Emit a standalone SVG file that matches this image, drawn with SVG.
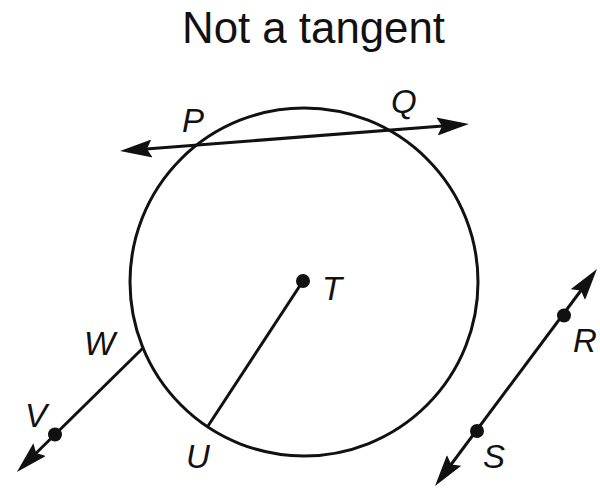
<svg xmlns="http://www.w3.org/2000/svg" width="600" height="488" viewBox="0 0 600 488">
<style>
  .title { font-family: "Liberation Sans", "DejaVu Sans", sans-serif; font-size: 45px; fill: #111; }
  .lbl { font-family: "Liberation Sans", "DejaVu Sans", sans-serif; font-size: 33px; font-style: italic; fill: #111; }
  .ln { stroke: #111; stroke-width: 3; fill: none; }
  .dot { fill: #111; }
</style>
<defs>
  <marker id="arr" viewBox="0 0 32 18" refX="22" refY="9" markerWidth="32" markerHeight="18" markerUnits="userSpaceOnUse" orient="auto-start-reverse">
    <path d="M0,0 L32,9 L0,18 L5,9 Z" fill="#111"/>
  </marker>
</defs>
<rect width="600" height="488" fill="#fff"/>
<text class="title" x="182" y="43" textLength="263" lengthAdjust="spacingAndGlyphs">Not a tangent</text>

<g id="circle">
  <circle class="ln" cx="304" cy="282" r="174"/>
</g>

<g id="connectors">
  <line class="ln" x1="130" y1="150.2" x2="459" y2="124.8" marker-start="url(#arr)" marker-end="url(#arr)"/>
  <line class="ln" x1="143" y1="348" x2="24" y2="465" marker-end="url(#arr)"/>
  <line class="ln" x1="441" y1="478" x2="591" y2="277" marker-start="url(#arr)" marker-end="url(#arr)"/>
  <line class="ln" x1="303" y1="281" x2="208" y2="426"/>
</g>

<g id="P"><text class="lbl" x="182" y="132">P</text></g>
<g id="Q"><text class="lbl" x="391" y="113">Q</text></g>
<g id="T"><circle class="dot" cx="303" cy="281" r="7"/><text class="lbl" x="322" y="300">T</text></g>
<g id="U"><text class="lbl" x="186" y="468">U</text></g>
<g id="W"><text class="lbl" x="84" y="355">W</text></g>
<g id="V"><circle class="dot" cx="55" cy="434.5" r="7"/><text class="lbl" x="25" y="427">V</text></g>
<g id="R"><circle class="dot" cx="564" cy="315.5" r="7"/><text class="lbl" x="573" y="352">R</text></g>
<g id="S"><circle class="dot" cx="477" cy="431" r="7"/><text class="lbl" x="483" y="468">S</text></g>
</svg>
